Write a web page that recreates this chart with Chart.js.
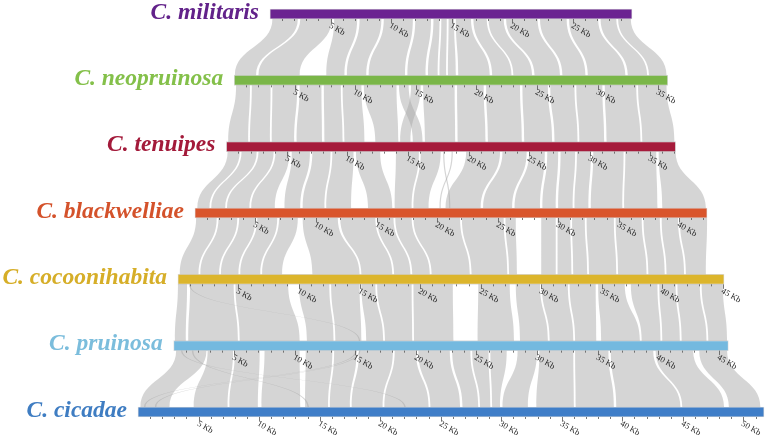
<!DOCTYPE html>
<html lang="en">
<head>
  <meta charset="UTF-8" />
  <title>Mitogenome synteny</title>
  <script src="https://cdn.jsdelivr.net/npm/chart.js"></script>
  <style>
    body { margin: 0; background: #fff; }
    #wrap { width: 767px; height: 436px; position: relative; }
  </style>
</head>
<body>
  <div id="wrap"><canvas id="synteny"></canvas></div>

  <script>
    // Genomes, top to bottom
    const species = ["C. militaris", "C. neopruinosa", "C. tenuipes", "C. blackwelliae",
                     "C. cocoonihabita", "C. pruinosa", "C. cicadae"];
    const genomeKb = [29.9, 35.8, 37.1, 42.3, 45.1, 45.8, 51.7];
    const barColors = ["#6b2391", "#7ab648", "#a51b3b", "#d9552c", "#dcb52c", "#74b9df", "#3f7ec8"];
    const labelColors = ["#62228a", "#84c04a", "#a31a3a", "#d4522b", "#d6ae28", "#7bbddc", "#3f7dc2"];
    const tickStep = 5; // labelled ticks every 5 Kb, minor every 1 Kb

    // Homologous blocks between neighbouring genomes: [upStart, upEnd, downStart, downEnd] in Kb
    const links1 = [
      [0.2, 2.3, 0.05, 1.8], [2.5, 5.1, 2.0, 5.4], [5.3, 7.2, 7.6, 9.1], [7.4, 9.2, 9.3, 10.9],
      [9.4, 11.8, 11.1, 14.1], [12.0, 13.3, 14.3, 15.8], [13.5, 14.0, 16.0, 16.8],
      [14.15, 14.6, 16.95, 17.5], [14.75, 15.2, 17.65, 18.3], [15.35, 16.6, 18.5, 21.1],
      [16.8, 17.9, 21.3, 22.9], [18.05, 19.3, 23.05, 24.6], [19.5, 22.1, 24.8, 26.9],
      [22.3, 24.5, 27.1, 29.0], [24.7, 27.1, 29.2, 32.3], [27.3, 28.6, 32.5, 34.1],
      [28.75, 29.8, 34.25, 35.7]
    ];
    const links2 = [
      [0.15, 1.3, 0.15, 1.8], [1.45, 3.0, 1.95, 3.6], [3.15, 5.2, 3.75, 5.6], [5.4, 7.2, 5.8, 7.9],
      [7.4, 8.8, 8.1, 9.6], [8.95, 10.5, 9.75, 11.4], [10.7, 13.4, 12.3, 14.2],
      [13.6, 14.4, 15.4, 16.2], [14.6, 15.4, 14.35, 15.2], [15.6, 18.2, 16.4, 18.9],
      [18.4, 20.6, 19.1, 21.4], [20.8, 23.6, 21.6, 24.4], [23.8, 25.9, 24.6, 26.9],
      [26.1, 28.1, 27.1, 29.0], [28.25, 30.4, 29.15, 31.2], [30.6, 33.2, 31.4, 34.2],
      [33.35, 35.7, 34.35, 37.0]
    ];
    const links3 = [
      [0.1, 1.1, 0.2, 1.2], [1.25, 2.5, 1.35, 2.5], [2.65, 3.9, 2.65, 4.5], [4.05, 5.2, 4.65, 6.6],
      [5.4, 6.9, 7.4, 8.7], [7.1, 8.6, 8.9, 10.7], [8.75, 10.5, 10.85, 12.9],
      [10.7, 12.7, 14.3, 16.3], [14.0, 15.9, 16.5, 17.9], [16.05, 17.7, 18.05, 19.3],
      [17.9, 18.0, 21.0, 21.1], [18.6, 18.7, 20.2, 20.3],
      [19.8, 22.6, 20.7, 23.6], [22.8, 24.8, 23.8, 26.2], [25.0, 26.3, 26.4, 28.5],
      [26.5, 27.4, 28.7, 29.8], [27.6, 28.8, 30.0, 31.2], [28.95, 30.1, 31.35, 32.5],
      [30.3, 32.8, 32.7, 35.3], [32.95, 35.5, 35.45, 38.2], [35.7, 37.1, 38.6, 42.2]
    ];
    const links4 = [
      [0.1, 1.8, 0.15, 1.7], [1.95, 3.5, 1.85, 3.4], [3.65, 5.0, 3.55, 5.0], [5.15, 6.8, 5.15, 6.8],
      [6.95, 8.5, 6.95, 8.6], [8.9, 11.8, 11.1, 15.0], [12.0, 14.9, 15.15, 17.7],
      [15.05, 16.4, 17.85, 19.2], [16.55, 17.9, 19.35, 20.8], [18.05, 21.9, 20.95, 24.1],
      [22.05, 25.5, 24.25, 27.2], [25.65, 26.5, 27.35, 28.0], [28.6, 29.8, 30.0, 31.2],
      [29.95, 31.0, 31.35, 32.5], [31.15, 32.2, 32.65, 33.8], [32.35, 34.6, 33.95, 36.2],
      [34.75, 36.9, 36.35, 38.7], [37.05, 38.4, 38.85, 40.2], [38.55, 39.9, 40.35, 41.8],
      [40.05, 42.3, 41.95, 43.6]
    ];
    const links5 = [
      [0.0, 0.75, 0.1, 1.0], [0.9, 1.0, 15.3, 15.4], [1.0, 4.6, 1.2, 5.3], [4.75, 9.1, 5.45, 10.4],
      [10.0, 12.5, 11.0, 13.2], [12.65, 15.0, 13.35, 15.5], [15.15, 16.3, 15.9, 17.3],
      [16.45, 19.3, 17.45, 19.7], [19.45, 22.7, 19.85, 23.1], [24.8, 27.4, 25.1, 28.1],
      [27.9, 29.9, 28.6, 30.9], [30.05, 32.2, 31.05, 33.0], [32.35, 34.5, 33.15, 34.9],
      [34.7, 36.9, 35.3, 38.5], [37.4, 39.6, 38.65, 40.2], [39.75, 41.1, 40.35, 41.8],
      [41.25, 43.1, 41.95, 44.0], [43.25, 45.0, 44.15, 45.7]
    ];
    const links6 = [
      [0.2, 2.7, 0.2, 2.6], [0.6, 0.72, 22.0, 22.12], [1.5, 1.62, 14.0, 14.12],
      [15.0, 15.12, 0.5, 0.62], [15.3, 15.42, 1.4, 1.52],
      [2.8, 4.9, 4.6, 7.4], [5.05, 7.1, 7.55, 9.9], [7.5, 10.4, 10.2, 13.4],
      [10.9, 13.1, 13.8, 15.7], [13.25, 15.1, 15.85, 17.5], [15.3, 18.1, 17.65, 20.2],
      [18.25, 20.0, 20.35, 24.0], [20.2, 22.8, 24.15, 26.6], [23.0, 24.5, 26.8, 28.1],
      [24.65, 26.0, 28.25, 29.1], [26.15, 27.5, 29.25, 29.9], [28.4, 30.0, 30.1, 32.2],
      [30.2, 33.0, 32.9, 36.0], [33.15, 35.9, 36.15, 39.3], [36.1, 39.6, 39.5, 44.8],
      [39.8, 42.9, 44.95, 48.4], [43.4, 45.7, 48.8, 51.4]
    ];
    const gapLinks = [links1, links2, links3, links4, links5, links6];

    // Every genome is centred on the longest one
    const maxKb = Math.max(...genomeKb);
    const offsets = genomeKb.map((len) => (maxKb - len) / 2);
    const BAR_HALF = 5;

    // Grey ribbons between neighbouring genomes
    const ribbonPlugin = {
      id: "ribbons",
      beforeDatasetsDraw(chart) {
        const { ctx, scales: { x, y } } = chart;
        ctx.save();
        ctx.fillStyle = "rgba(165,165,165,0.47)";
        gapLinks.forEach((links, g) => {
          const yTop = y.getPixelForValue(g) + BAR_HALF;
          const yBot = y.getPixelForValue(g + 1) - BAR_HALF;
          const yMid = (yTop + yBot) / 2;
          links.forEach(([a1, a2, b1, b2]) => {
            const xa1 = x.getPixelForValue(offsets[g] + a1);
            const xa2 = x.getPixelForValue(offsets[g] + a2);
            const xb1 = x.getPixelForValue(offsets[g + 1] + b1);
            const xb2 = x.getPixelForValue(offsets[g + 1] + b2);
            ctx.beginPath();
            ctx.moveTo(xa1, yTop);
            ctx.lineTo(xa2, yTop);
            ctx.bezierCurveTo(xa2, yMid, xb2, yMid, xb2, yBot);
            ctx.lineTo(xb1, yBot);
            ctx.bezierCurveTo(xb1, yMid, xa1, yMid, xa1, yTop);
            ctx.closePath();
            ctx.fill();
          });
        });
        ctx.restore();
      }
    };

    // Kb ticks under each bar and the species names
    const axisPlugin = {
      id: "genomeAxes",
      afterDatasetsDraw(chart) {
        const { ctx, scales: { x, y } } = chart;
        ctx.save();
        species.forEach((name, i) => {
          const yc = y.getPixelForValue(i);
          const yb = yc + BAR_HALF;
          ctx.strokeStyle = "#555";
          ctx.lineWidth = 0.8;
          for (let k = 1; k <= Math.floor(genomeKb[i]); k++) {
            const px = Math.round(x.getPixelForValue(offsets[i] + k)) + 0.5;
            const major = k % tickStep === 0;
            ctx.beginPath();
            ctx.moveTo(px, yb);
            ctx.lineTo(px, yb + (major ? 4.5 : 2));
            ctx.stroke();
            if (major) {
              ctx.save();
              ctx.translate(px + 0.5, yb + 2.5);
              ctx.rotate(Math.PI / 6);
              ctx.font = '8.5px "Liberation Serif"';
              ctx.fillStyle = "#222";
              ctx.textAlign = "left";
              ctx.textBaseline = "top";
              ctx.fillText(k + " Kb", 0, 0);
              ctx.restore();
            }
          }
          ctx.font = 'italic bold 23.5px "Liberation Serif"';
          ctx.fillStyle = labelColors[i];
          ctx.textAlign = "right";
          ctx.textBaseline = "alphabetic";
          ctx.fillText(name, x.getPixelForValue(offsets[i]) - 11, yc + 4.5);
        });
        ctx.restore();
      }
    };

    new Chart(document.getElementById("synteny"), {
      type: "bar",
      data: {
        labels: species,
        datasets: [{
          data: genomeKb.map((len, i) => [offsets[i], offsets[i] + len]),
          backgroundColor: barColors,
          borderColor: "rgba(0,0,0,0.15)",
          borderWidth: 0.8,
          borderSkipped: false,
          barThickness: BAR_HALF * 2,
          clip: false
        }]
      },
      options: {
        indexAxis: "y",
        responsive: true,
        maintainAspectRatio: false,
        animation: false,
        layout: { padding: { left: 138, right: 3, top: 14, bottom: 24 } },
        plugins: { legend: { display: false }, tooltip: { enabled: false } },
        scales: {
          x: { type: "linear", min: 0, max: maxKb, display: false },
          y: { type: "category", offset: false, display: false }
        }
      },
      plugins: [ribbonPlugin, axisPlugin]
    });
  </script>
</body>
</html>
